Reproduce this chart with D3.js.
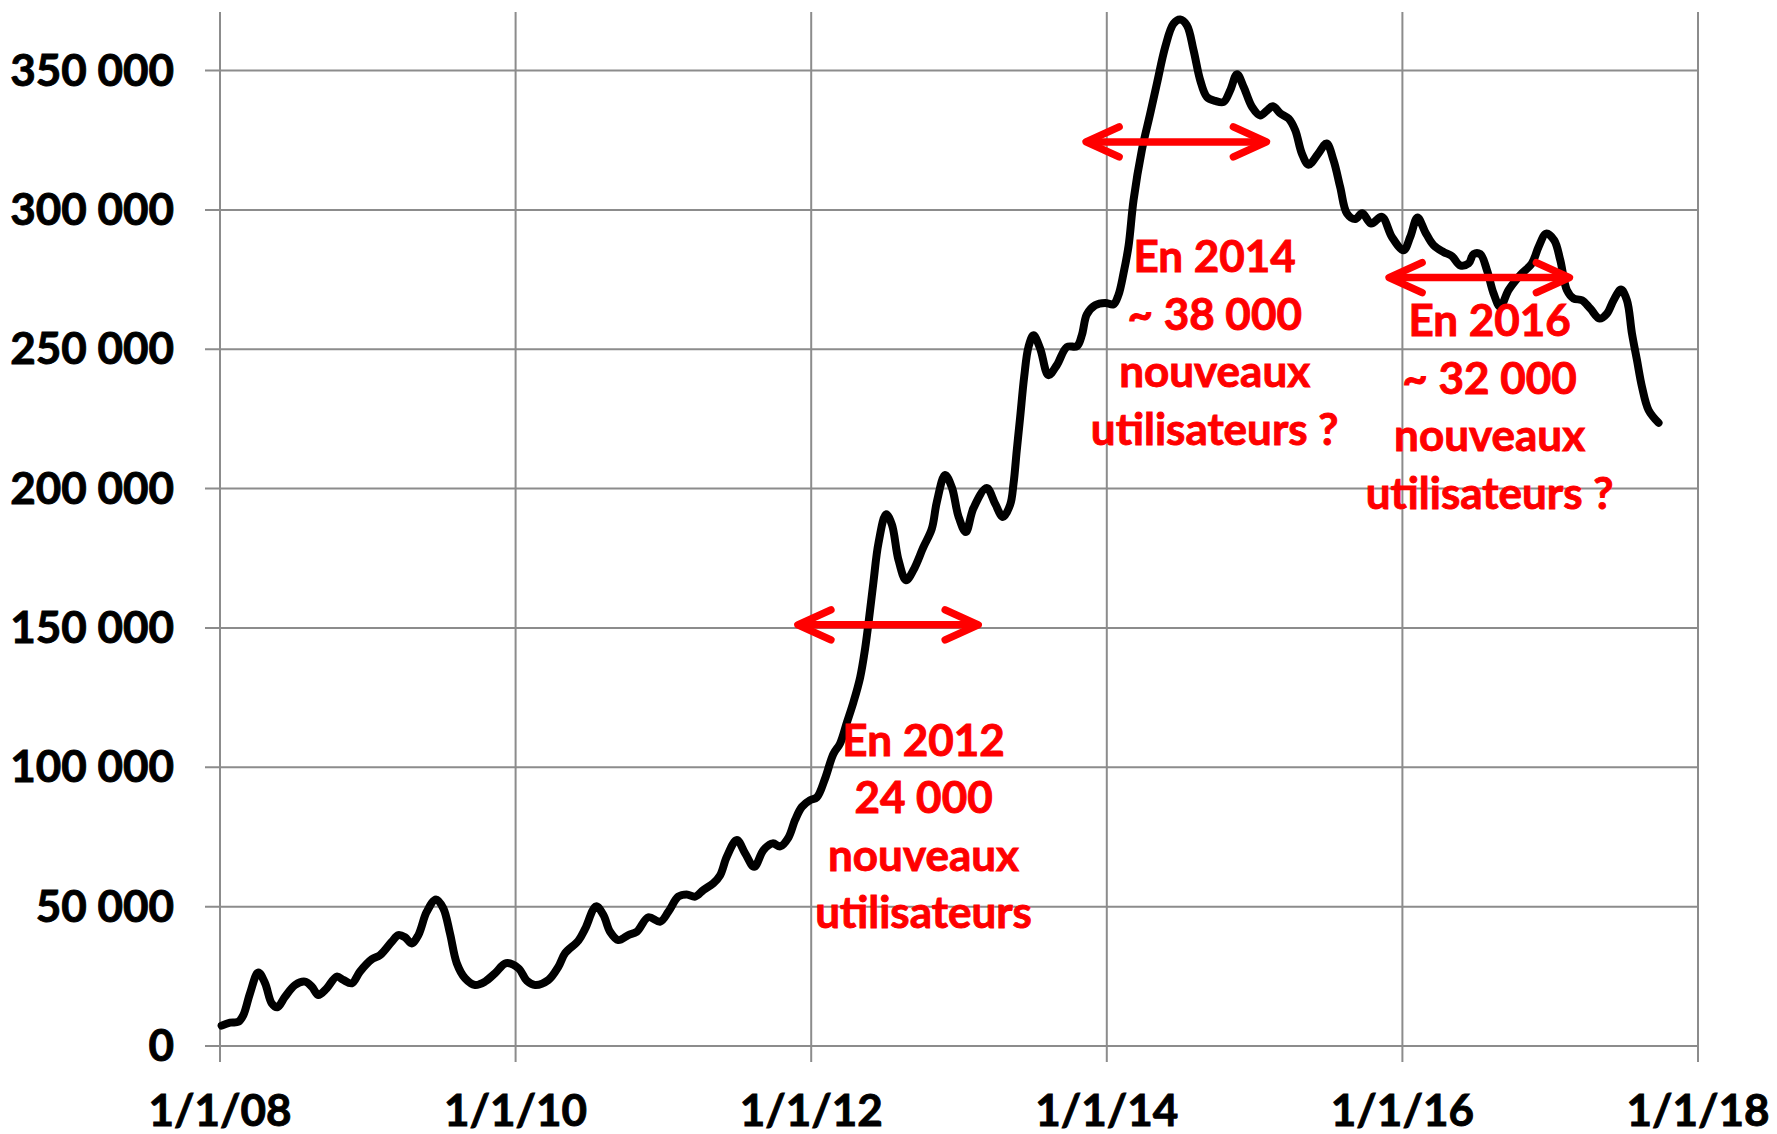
<!DOCTYPE html>
<html>
<head>
<meta charset="utf-8">
<script src="https://cdn.jsdelivr.net/npm/d3@7"></script>
<style>
  html, body { margin: 0; padding: 0; background: #ffffff; }
  svg { display: block; }
</style>
</head>
<body>
<svg id="chart" width="1777" height="1134"></svg>
<script>
// ---- data (decimal years, user counts) ----
const dates = [
  2008.011, 2008.068, 2008.124, 2008.158, 2008.203, 2008.259, 2008.305, 2008.350, 2008.388, 2008.440,
  2008.508, 2008.575, 2008.621, 2008.665, 2008.722, 2008.790, 2008.834, 2008.891, 2008.947, 2009.027,
  2009.083, 2009.162, 2009.207, 2009.252, 2009.297, 2009.342, 2009.399, 2009.462, 2009.511, 2009.556,
  2009.602, 2009.658, 2009.726, 2009.793, 2009.861, 2009.935, 2010.019, 2010.076, 2010.132, 2010.222,
  2010.289, 2010.335, 2010.425, 2010.470, 2010.544, 2010.594, 2010.639, 2010.695, 2010.763, 2010.820,
  2010.898, 2010.978, 2011.034, 2011.101, 2011.158, 2011.215, 2011.271, 2011.338, 2011.384, 2011.429,
  2011.497, 2011.553, 2011.614, 2011.677, 2011.740, 2011.790, 2011.846, 2011.891, 2011.937, 2011.993,
  2012.038, 2012.094, 2012.150, 2012.195, 2012.241, 2012.286, 2012.331, 2012.365, 2012.387, 2012.421,
  2012.455, 2012.507, 2012.546, 2012.590, 2012.642, 2012.692, 2012.759, 2012.816, 2012.850, 2012.906,
  2012.952, 2012.996, 2013.046, 2013.098, 2013.188, 2013.245, 2013.297, 2013.346, 2013.369, 2013.391,
  2013.414, 2013.441, 2013.470, 2013.504, 2013.549, 2013.605, 2013.662, 2013.730, 2013.798, 2013.831,
  2013.865, 2013.921, 2013.989, 2014.045, 2014.079, 2014.113, 2014.147, 2014.181, 2014.237, 2014.294,
  2014.339, 2014.395, 2014.451, 2014.497, 2014.542, 2014.587, 2014.632, 2014.677, 2014.734, 2014.790,
  2014.835, 2014.881, 2014.926, 2014.983, 2015.038, 2015.084, 2015.124, 2015.174, 2015.230, 2015.275,
  2015.320, 2015.365, 2015.427, 2015.487, 2015.534, 2015.579, 2015.625, 2015.681, 2015.728, 2015.789,
  2015.861, 2015.929, 2016.008, 2016.053, 2016.102, 2016.154, 2016.211, 2016.278, 2016.335, 2016.391,
  2016.448, 2016.481, 2016.527, 2016.572, 2016.617, 2016.662, 2016.718, 2016.797, 2016.876, 2016.921,
  2016.973, 2017.027, 2017.068, 2017.113, 2017.158, 2017.215, 2017.271, 2017.334, 2017.384, 2017.429,
  2017.479, 2017.519, 2017.553, 2017.587, 2017.621, 2017.666, 2017.733
];
const users = [
  7300, 8400, 8700, 11100, 18900, 26400, 22500, 15300, 13900, 17700,
  21900, 23100, 21300, 18300, 20700, 24900, 23700, 22500, 26700, 31100,
  32600, 37400, 39800, 39000, 36800, 39800, 48200, 52600, 49400, 40400,
  29700, 24300, 21900, 23100, 26100, 29700, 27900, 23400, 21900, 23700,
  28400, 33300, 37800, 42000, 50100, 47000, 41000, 38000, 39800, 41000,
  46200, 44600, 48200, 53600, 54400, 53600, 56000, 58400, 61300, 67900,
  73900, 69100, 64300, 70300, 72700, 71600, 74800, 81100, 85800, 88200,
  89200, 96000, 104800, 108500, 116000, 123400, 132200, 142700, 151500, 166400,
  180400, 190800, 187100, 174500, 167100, 170800, 179000, 185600, 195200, 204900,
  200400, 190100, 184400, 193000, 200200, 194500, 189800, 194200, 201800, 213800,
  225700, 240100, 250800, 255000, 250300, 240700, 244300, 250800, 251100, 255000,
  262500, 265800, 266600, 266100, 269500, 277200, 287000, 303500, 321400, 334600,
  345300, 358400, 366800, 368300, 366200, 357300, 346500, 340500, 339100, 338700,
  342900, 348700, 344100, 336900, 333900, 335700, 337200, 334600, 332800, 328600,
  320200, 316200, 319900, 323800, 317800, 308200, 298700, 296700, 298800, 295100,
  297500, 290300, 285500, 290300, 297300, 292100, 287300, 284900, 283400, 280100,
  280800, 284100, 284100, 278400, 270000, 265200, 271200, 276600, 280800, 286700,
  291500, 289100, 282000, 271200, 268200, 267600, 264600, 261000, 262800, 267600,
  271400, 267600, 255700, 246100, 236500, 228100, 223600
];

const yTicks = [0, 50000, 100000, 150000, 200000, 250000, 300000, 350000];
const yTickLabels = ["0", "50 000", "100 000", "150 000", "200 000", "250 000", "300 000", "350 000"];
const xTicks = [2008, 2010, 2012, 2014, 2016, 2018];
const xTickLabels = ["1/1/08", "1/1/10", "1/1/12", "1/1/14", "1/1/16", "1/1/18"];

// annotations: double arrows (start, end, level) and text blocks
const arrowStart = [2011.91, 2013.86, 2015.91];
const arrowEnd   = [2013.13, 2015.08, 2017.13];
const arrowLevel = [151100, 324400, 275700];
const noteX = [2012.76, 2014.73, 2016.59];
const noteY = [104100, 277700, 254700];
const noteLines = [
  ["En 2012", "24 000", "nouveaux", "utilisateurs"],
  ["En 2014", "~ 38 000", "nouveaux", "utilisateurs ?"],
  ["En 2016", "~ 32 000", "nouveaux", "utilisateurs ?"]
];

// ---- drawing ----
(function () {
  const svg = d3.select("#chart");
  const pLeft = 220, pRight = 1698, pTop = 12, pBottom = 1046;
  const x = d3.scaleLinear().domain([2008, 2018]).range([pLeft, pRight]);
  const y = d3.scaleLinear().domain([0, 371000]).range([pBottom, pTop]);

  const gridColor = "#8c8c8c";
  const font = "Lato, 'Open Sans', sans-serif";

  // horizontal gridlines (with left tick extension)
  svg.append("g").selectAll("line").data(yTicks).join("line")
    .attr("x1", pLeft - 15).attr("x2", pRight)
    .attr("y1", d => y(d)).attr("y2", d => y(d))
    .attr("stroke", gridColor).attr("stroke-width", 2);

  // vertical gridlines (with bottom tick extension)
  svg.append("g").selectAll("line").data(xTicks).join("line")
    .attr("x1", d => x(d)).attr("x2", d => x(d))
    .attr("y1", pTop).attr("y2", pBottom + 16)
    .attr("stroke", gridColor).attr("stroke-width", 2);

  // y tick labels
  svg.append("g").selectAll("text").data(yTicks).join("text")
    .attr("x", pLeft - 46).attr("y", d => y(d) + 15)
    .attr("text-anchor", "end")
    .attr("font-family", font).attr("font-weight", 700).attr("font-size", 44)
    .attr("fill", "#000").attr("stroke", "#000").attr("stroke-width", 0.9)
    .text((d, i) => yTickLabels[i]);

  // x tick labels
  svg.append("g").selectAll("text").data(xTicks).join("text")
    .attr("x", d => x(d)).attr("y", pBottom + 80)
    .attr("text-anchor", "middle")
    .attr("font-family", font).attr("font-weight", 700).attr("font-size", 44)
    .attr("fill", "#000").attr("stroke", "#000").attr("stroke-width", 0.9)
    .text((d, i) => xTickLabels[i]);

  // data line
  const pts = dates.map((d, i) => [d, users[i]]);
  svg.append("path")
    .datum(pts)
    .attr("fill", "none")
    .attr("stroke", "#000")
    .attr("stroke-width", 8)
    .attr("stroke-linejoin", "round")
    .attr("stroke-linecap", "round")
    .attr("d", d3.line().x(d => x(d[0])).y(d => y(d[1])).curve(d3.curveCatmullRom.alpha(0.5)));

  // arrows
  const red = "#ff0000";
  const ag = svg.append("g").attr("stroke", red).attr("stroke-width", 7.5)
    .attr("stroke-linecap", "round").attr("stroke-linejoin", "round").attr("fill", "none");
  arrowStart.forEach((s, i) => {
    const x1 = x(s), x2 = x(arrowEnd[i]), yy = y(arrowLevel[i]);
    const bx = 33, by = 15;
    ag.append("line").attr("x1", x1 + 3).attr("x2", x2 - 3).attr("y1", yy).attr("y2", yy);
    ag.append("path").attr("d", `M${x1 + bx},${yy - by}L${x1},${yy}L${x1 + bx},${yy + by}`);
    ag.append("path").attr("d", `M${x2 - bx},${yy - by}L${x2},${yy}L${x2 - bx},${yy + by}`);
  });

  // annotation texts
  noteLines.forEach((lines, i) => {
    const t = svg.append("text")
      .attr("x", x(noteX[i])).attr("y", y(noteY[i]))
      .attr("text-anchor", "middle")
      .attr("font-family", font).attr("font-weight", 700).attr("font-size", 44)
      .attr("fill", red).attr("stroke", red).attr("stroke-width", 0.9);
    lines.forEach((ln, j) => {
      t.append("tspan").attr("x", x(noteX[i])).attr("y", y(noteY[i]) + j * 57.5).text(ln);
    });
  });
})();
</script>
</body>
</html>
